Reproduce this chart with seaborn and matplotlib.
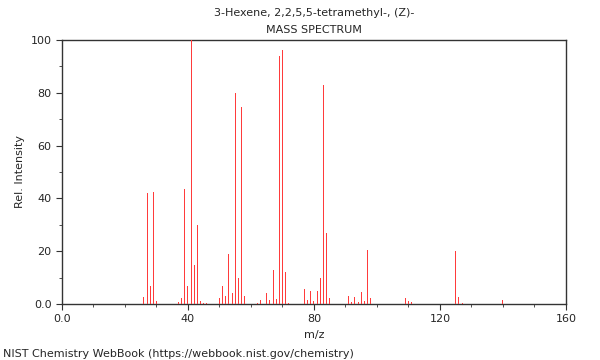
import pandas as pd
import matplotlib.pyplot as plt
import seaborn as sns

# peaks (m/z, relative intensity)
mz = [26, 27, 28, 29, 30, 37, 38, 39, 40, 41, 42, 43, 44, 45, 46,
      50, 51, 52, 53, 54, 55, 56, 57, 58, 62, 63, 65, 66, 67, 68, 69, 70, 71, 72,
      77, 78, 79, 80, 81, 82, 83, 84, 85, 91, 92, 93, 94, 95, 96, 97, 98,
      109, 110, 111, 125, 126, 127, 140]
intensity = [2.5, 42, 7, 42.4, 1, 0.6, 2.3, 43.7, 6.8, 100, 14.7, 30, 1, 0.5, 0.5,
             2.2, 7, 3.2, 19, 4.2, 80, 10, 74.6, 3.2, 0.4, 1.5, 4.2, 1.4, 13, 2, 94, 96.3, 12.3, 0.4,
             5.6, 1.4, 5.1, 1, 5.1, 10, 83, 27, 2.2, 3, 0.8, 2.5, 0.7, 4.7, 1.3, 20.3, 2.3,
             2.3, 1.1, 0.6, 20, 2.5, 0.5, 1.5]

title = "3-Hexene, 2,2,5,5-tetramethyl-, (Z)-\nMASS SPECTRUM"
credit = "NIST Chemistry WebBook (https://webbook.nist.gov/chemistry)"

df = pd.DataFrame({'mz': mz, 'intensity': intensity})

sns.set_style("ticks")
plt.rcParams['font.family'] = ['DejaVu Sans']

fig = plt.figure(figsize=(6, 3.6), dpi=100)
ax = fig.add_axes([0.1033, 0.1556, 0.84, 0.7333])

sns.barplot(data=df, x='mz', y='intensity', native_scale=True, width=0.32,
            color='#ff3b3b', saturation=1, linewidth=0, ax=ax)

ax.set_xlim(0, 160)
ax.set_ylim(0, 100)
ax.set_xticks([0, 40, 80, 120, 160])
ax.set_xticklabels(['0.0', '40', '80', '120', '160'])
ax.set_xticks(range(0, 161, 10), minor=True)
ax.set_yticks([0, 20, 40, 60, 80, 100])
ax.set_yticklabels(['0.0', '20', '40', '60', '80', '100'])
ax.set_yticks(range(0, 101, 10), minor=True)
ax.tick_params(which='both', labelsize=8, direction='out', color='#333333')
ax.tick_params(which='major', length=4)
ax.tick_params(which='minor', length=2.5)
for s in ax.spines.values():
    s.set_color('#333333')
    s.set_linewidth(1)
    s.set_zorder(0.5)

ax.set_xlabel('m/z', fontsize=8)
ax.set_ylabel('Rel. Intensity', fontsize=8)
ax.set_title(title, fontsize=8, linespacing=1.9, pad=5)
fig.text(0.005, 0.003, credit, fontsize=8, ha='left', va='bottom')

fig.savefig('out.png', dpi=100)
